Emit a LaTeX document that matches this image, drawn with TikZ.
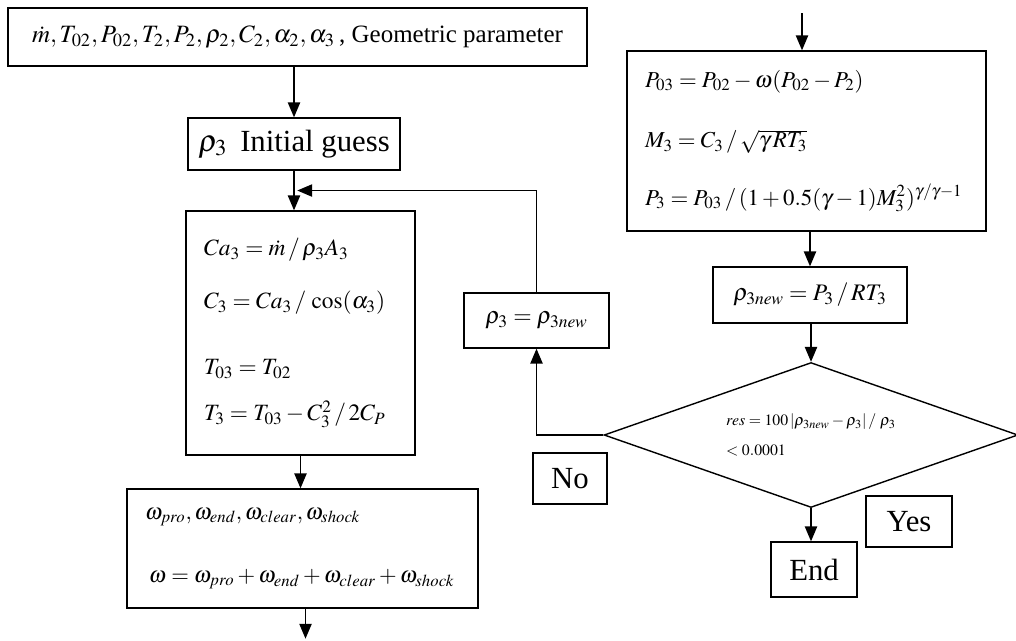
\documentclass[tikz,border=0pt]{standalone}
\usepackage{mathptmx}
\usepackage{fontspec}
\setmainfont{Liberation Serif}
\usetikzlibrary{calc, shapes.geometric, arrows.meta}

\begin{document}
\begin{tikzpicture}[x=0.02cm, y=-0.02cm,
    box/.style={draw, line width=0.8pt, inner sep=0pt, font=\fontsize{17.5}{21}\selectfont},
    listbox/.style={box, align=left, inner xsep=0.36cm},
    arr/.style={line width=0.8pt, -{Triangle[length=8.5pt, width=7pt]}}]
  \useasboundingbox (0,0) rectangle (1016,640);

  % left column
  \node[box, minimum width=11.58cm, minimum height=1.16cm, font=\fontsize{14.2}{17}\selectfont] (inputs) at (297.5,37)
    {$\dot m{,}\,T_{02}{,}\,P_{02}{,}\,T_2{,}\,P_2{,}\,\rho_2{,}\,C_2{,}\,\alpha_2{,}\,\alpha_3$\,, Geometric parameter};
  \node[box, minimum width=4.24cm, minimum height=1.04cm] (guess) at (294,144)
    {$\rho_3$\, Initial guess};
  \node[listbox, text width=3.86cm, minimum height=4.88cm, font=\fontsize{13.3}{15.6}\selectfont] (calc) at (300.5,333) {%
    $Ca_3 = \dot m \,/\, \rho_3 A_3$\\[14.5pt]
    $C_3 = Ca_3 \,/\, \cos(\alpha_3)$\\[22pt]
    $T_{03} = T_{02}$\\[10.5pt]
    $T_3 = T_{03} - C_3^2 \,/\, 2C_P$};
  \node[listbox, text width=6.3cm, minimum height=2.38cm, font=\fontsize{12.9}{15}\selectfont] (loss) at (302.5,548.5) {%
    $\omega_{pro}, \omega_{end}, \omega_{clear}, \omega_{shock}$\\[21pt]
    \,$\omega = \omega_{pro} + \omega_{end} + \omega_{clear} + \omega_{shock}$};

  % right column
  \node[listbox, text width=6.46cm, minimum height=3.6cm, font=\fontsize{13}{15.6}\selectfont] (press) at (806.5,141) {%
    $P_{03} = P_{02} - \omega(P_{02} - P_2)$\\[19pt]
    $M_3 = C_3 \,/\, \sqrt{\gamma\, R T_3}$\\[17pt]
    $P_3 = P_{03} \,/\, (1 + 0.5(\gamma - 1)M_3^2)^{\gamma/\gamma-1}$};
  \node[box, minimum width=3.88cm, minimum height=1.12cm, font=\fontsize{13.5}{16}\selectfont] (dens) at (810,295)
    {$\rho_{3new} = P_3 \,/\, RT_3$};
  \node[draw, diamond, aspect=2.9, line width=0.8pt, minimum width=8.28cm, minimum height=2.9cm, inner sep=0pt,
        align=left, font=\fontsize{9}{11}\selectfont] (test) at (811,435)
    {$res = 100\left|\rho_{3new} - \rho_3\right| /\ \rho_3$\\[6pt] $<0.0001$};
  \node[box, minimum width=2.9cm, minimum height=1.1cm, font=\fontsize{13.5}{16}\selectfont] (update) at (536.5,320.5)
    {$\rho_3 = \rho_{3new}$};
  \node[box, minimum width=1.48cm, minimum height=1.02cm] (no) at (570,478.5) {No};
  \node[box, minimum width=1.72cm, minimum height=1.02cm] (yes) at (909,521.5) {Yes};
  \node[box, minimum width=1.72cm, minimum height=1.1cm] (finish) at (814,569.5) {End};

  \coordinate (join) at ($(guess.south)!0.5!(calc.north)$);
  \coordinate (tail) at ($(loss.south)+(3,30)$);
  \coordinate (head) at (802,13);

  \draw[arr] (inputs.south -| guess) -- (guess);
  \draw[arr] (guess.south) -- (guess.south |- calc.north);
  \draw[arr] (update.north) |- (join);
  \draw[arr] (calc.south) -- (calc.south |- loss.north);
  \draw[arr] (loss.south -| tail) -- (tail);
  \draw[arr] (head) -- (head |- press.north);
  \draw[arr] (press.south -| dens) -- (dens.north);
  \draw[arr] (dens.south -| test) -- (test.north);
  \draw[arr] (test.west) -| (update.south);
  \draw[arr] (test.south) -- (test.south |- finish.north);
\end{tikzpicture}
\end{document}
